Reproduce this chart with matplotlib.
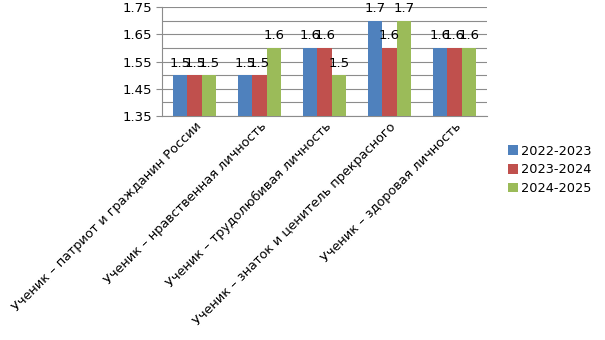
import matplotlib.pyplot as plt
import numpy as np

# Average scores per upbringing direction, by school year
categories = [
    'Ученик – патриот и гражданин России',
    'Ученик – нравственная личность',
    'Ученик – трудолюбивая личность',
    'Ученик – знаток и ценитель прекрасного',
    'Ученик – здоровая личность',
]
years = ['2022-2023', '2023-2024', '2024-2025']
s2022 = [1.5, 1.5, 1.6, 1.7, 1.6]
s2023 = [1.5, 1.5, 1.6, 1.6, 1.6]
s2024 = [1.5, 1.6, 1.5, 1.7, 1.6]
colors = ['#4F81BD', '#C0504D', '#9BBB59']

fig = plt.figure(figsize=(6.05, 3.4), dpi=100)
ax = fig.add_axes([0.268, 0.659, 0.537, 0.320])

x = np.arange(len(categories))
w = 0.22
for i, (vals, lab, c) in enumerate(zip([s2022, s2023, s2024], years, colors)):
    pos = x + (i - 1) * w
    ax.bar(pos, vals, w, color=c, label=lab, zorder=3)
    for px, v in zip(pos, vals):
        ax.annotate(f'{v:g}', (px, v), xytext=(0, 4), textcoords='offset points',
                    ha='center', va='bottom', fontsize=9.5, zorder=4)

ax.set_ylim(1.35, 1.75)
ax.set_xlim(-0.5, len(categories) - 0.5)
ax.set_yticks([1.35, 1.45, 1.55, 1.65, 1.75])
ax.set_yticks(np.arange(1.40, 1.75, 0.1), minor=True)
ax.yaxis.grid(True, which='both', color='#8c8c8c', linewidth=0.8, zorder=0)
ax.tick_params(axis='y', which='major', length=4, color='#8c8c8c', labelsize=9.5)
ax.tick_params(axis='y', which='minor', length=0)
ax.tick_params(axis='x', length=0, labelsize=9.3, pad=3)
ax.set_xticks(x)
ax.set_xticklabels(categories, rotation=45, ha='right', rotation_mode='anchor')
for s in ['top', 'right']:
    ax.spines[s].set_visible(False)
for s in ['left', 'bottom']:
    ax.spines[s].set_color('#8c8c8c')

fig.legend(loc='upper left', bbox_to_anchor=(0.831, 0.59), frameon=False,
           fontsize=9.3, handlelength=0.75, handleheight=0.75, handletextpad=0.3,
           labelspacing=0.45, borderaxespad=0)

fig.savefig('out.png', dpi=100)
